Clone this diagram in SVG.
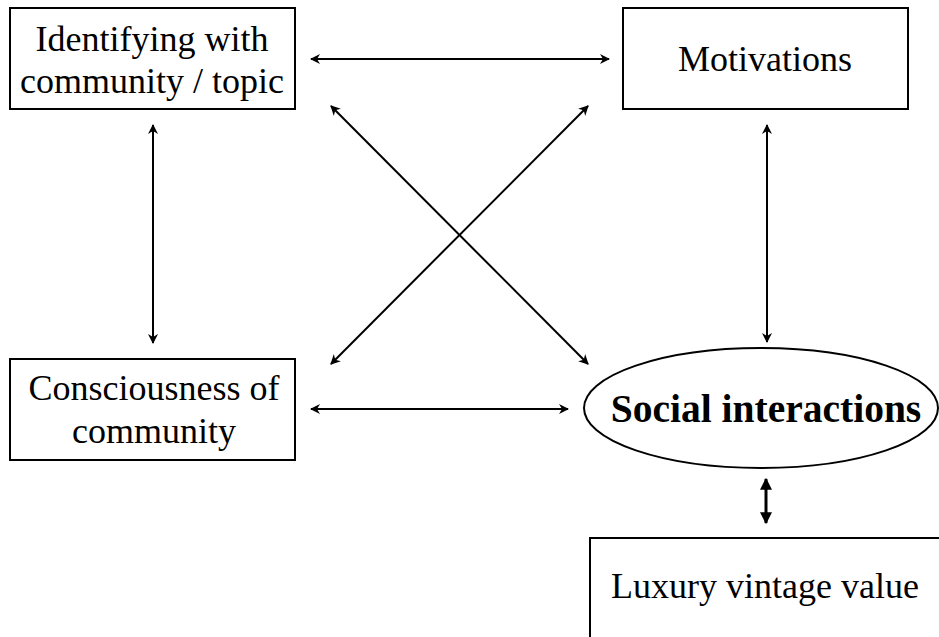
<svg xmlns="http://www.w3.org/2000/svg" width="939" height="637" viewBox="0 0 939 637">
  <style>
    .box { fill: #fff; stroke: #000; stroke-width: 2; }
    .lbl { font-family: "Liberation Serif", "Times New Roman", serif; font-size: 36px; fill: #000; text-anchor: middle; }
    .bold { font-weight: bold; font-size: 39.5px; }
    .link { stroke: #000; stroke-width: 2; fill: none; marker-start: url(#tip); marker-end: url(#tip); }
    .thick { stroke: #000; stroke-width: 3; fill: none; marker-start: url(#bigtip); marker-end: url(#bigtip); }
  </style>
  <defs>
    <marker id="tip" viewBox="0 0 10 10" refX="9" refY="5" markerWidth="5" markerHeight="5" orient="auto-start-reverse" markerUnits="strokeWidth">
      <path d="M0,0 L10,5 L0,10 L3,5 Z" fill="#000"/>
    </marker>
    <marker id="bigtip" viewBox="0 0 10 10" refX="9" refY="5" markerWidth="4" markerHeight="4" orient="auto-start-reverse" markerUnits="strokeWidth">
      <path d="M0,0 L10,5 L0,10 Z" fill="#000"/>
    </marker>
  </defs>
  <rect width="939" height="637" fill="#fff"/>

  <g id="connectors">
    <line class="link" x1="311" y1="59" x2="609" y2="59"/>
    <line class="link" x1="153" y1="125" x2="153" y2="343"/>
    <line class="link" x1="767" y1="125" x2="767" y2="342"/>
    <line class="link" x1="311" y1="409" x2="568" y2="409"/>
    <line class="link" x1="331" y1="106" x2="588" y2="364"/>
    <line class="link" x1="588" y1="106" x2="331" y2="364"/>
    <line class="thick" x1="766" y1="479" x2="766" y2="523"/>
  </g>

  <g id="identifying">
    <rect class="box" x="10" y="8" width="285" height="101"/>
    <text class="lbl" x="152" y="51">Identifying with</text>
    <text class="lbl" x="152" y="93">community / topic</text>
  </g>

  <g id="motivations">
    <rect class="box" x="623" y="8" width="285" height="101"/>
    <text class="lbl" x="765" y="71">Motivations</text>
  </g>

  <g id="consciousness">
    <rect class="box" x="10" y="359" width="285" height="101"/>
    <text class="lbl" x="154" y="400">Consciousness of</text>
    <text class="lbl" x="154" y="443">community</text>
  </g>

  <g id="social">
    <ellipse class="box" cx="761" cy="408" rx="177" ry="60"/>
    <text class="lbl bold" x="766" y="422">Social interactions</text>
  </g>

  <g id="luxury">
    <rect class="box" x="590" y="538" width="360" height="110"/>
    <text class="lbl" x="765" y="598">Luxury vintage value</text>
  </g>
</svg>
